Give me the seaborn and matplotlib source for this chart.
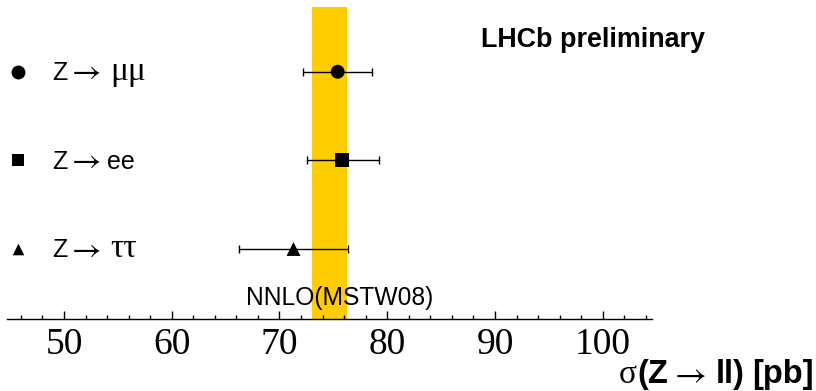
import numpy as np
import pandas as pd
import matplotlib
matplotlib.use("Agg")
import matplotlib.pyplot as plt
import seaborn as sns
from matplotlib.ticker import MultipleLocator

# ---- data ----
channels = ["μμ", "ee", "ττ"]
sigma = [75.4, 75.8, 71.3]
err_lo = [3.2, 3.2, 5.1]
err_hi = [3.2, 3.4, 5.1]
markers = ["o", "s", "^"]
band_lo, band_hi = 73.06, 76.25
band_label = "NNLO(MSTW08)"
xticks = [50, 60, 70, 80, 90, 100]
title = "LHCb preliminary"

sns.set_theme(style="white")
plt.rcParams["font.family"] = ["Liberation Sans", "DejaVu Sans"]
plt.rcParams["text.color"] = "black"
plt.rcParams["xtick.color"] = "black"

SANS = ["Liberation Sans", "DejaVu Sans"]
SERIF = ["Liberation Serif", "DejaVu Serif"]

df = pd.DataFrame({"channel": channels, "sigma": sigma,
                   "pos": np.arange(len(channels))})

W, H = 816, 391
fig = plt.figure(figsize=(W / 100, H / 100), dpi=100)
AX_L, AX_R, AX_B = 7.3, 652.3, 72
ax = fig.add_axes([AX_L / W, AX_B / H, (AX_R - AX_L) / W, (H - AX_B) / H])

# theory band
ax.axvspan(band_lo, band_hi, ymin=0, ymax=(319 - 7) / 319,
           color="#ffcc00", lw=0, zorder=0)

# error bars
ax.errorbar(df["sigma"], df["pos"], xerr=[err_lo, err_hi], fmt="none",
            ecolor="black", elinewidth=1.0, capsize=2.6, capthick=1.0, zorder=2)

# points
sns.scatterplot(data=df, x="sigma", y="pos", style="channel",
                markers=dict(zip(channels, markers)), color="black",
                s=100, edgecolor="black", linewidth=0, legend=False, ax=ax, zorder=3)

ax.set_xlim(44.74, 104.6)
ax.set_ylim(2.79, -0.81)

ax.text(0.515, 0.066, band_label, transform=ax.transAxes, ha="center",
        va="center", fontsize=17.7, color="black")

# axis styling
for s in ["left", "right", "top"]:
    ax.spines[s].set_visible(False)
ax.spines["bottom"].set_color("black")
ax.spines["bottom"].set_linewidth(1.0)
ax.set_yticks([])
ax.set_xticks(xticks)
ax.set_xticklabels([str(t) for t in xticks], family=SERIF, fontsize=27)
ax.xaxis.set_minor_locator(MultipleLocator(2))
ax.tick_params(axis="x", which="major", direction="in", length=6, width=1,
               color="black", pad=6, bottom=True)
ax.tick_params(axis="x", which="minor", direction="in", length=3, width=1,
               color="black", bottom=True)
ax.set_xlabel("")
ax.set_ylabel("")
fig.patch.set_facecolor("white")

renderer = fig.canvas.get_renderer()


def flow(pieces, x0, y_disp, align="left"):
    objs = []
    for s, gap, kw in pieces:
        t = fig.text(0, y_disp / H, s, ha="left", va="baseline", **kw)
        objs.append((t, gap))
    widths = [t.get_window_extent(renderer).width for t, g in objs]
    total = sum(widths) + sum(g for t, g in objs)
    x = x0 if align == "left" else x0 - total
    for (t, g), w in zip(objs, widths):
        x += g
        t.set_x(x / W)
        x += w


# left-side labels with markers
ytr = ax.get_yaxis_transform()
msize = [100, 75, 70]
for i, (ch, mk) in enumerate(zip(channels, markers)):
    ax.scatter([(18.3 - AX_L) / (AX_R - AX_L)], [i], marker=mk, s=msize[i],
               color="black", transform=ytr, clip_on=False, zorder=3, linewidth=0)
    yc = ax.transData.transform((60, i))[1]
    if ch == "ee":
        rest = (ch, 6, dict(fontsize=18, family=SANS))
    else:
        rest = (ch, 9, dict(fontsize=24, family=SERIF))
    flow([("Z", 0, dict(fontsize=18, family=SANS)),
          (r"$\rightarrow$", 0, dict(fontsize=23, math_fontfamily="stix")),
          rest], 52, yc - 8.5)

fig.text(481 / W, 1 - 40 / H, title, ha="left", va="center",
         fontsize=19.4, fontweight="bold", color="black")

# x-axis title
bold = dict(fontsize=23.5, fontweight="bold", family=SANS)
flow([("σ", 0, dict(fontsize=24, family=SERIF)),
      ("(Z", 1, bold),
      (r"$\rightarrow$", 0, dict(fontsize=25, math_fontfamily="stix")),
      ("ll)", 10, bold),
      ("[pb]", 8, bold)], 814, 8, align="right")

fig.savefig("out.png", dpi=100)
